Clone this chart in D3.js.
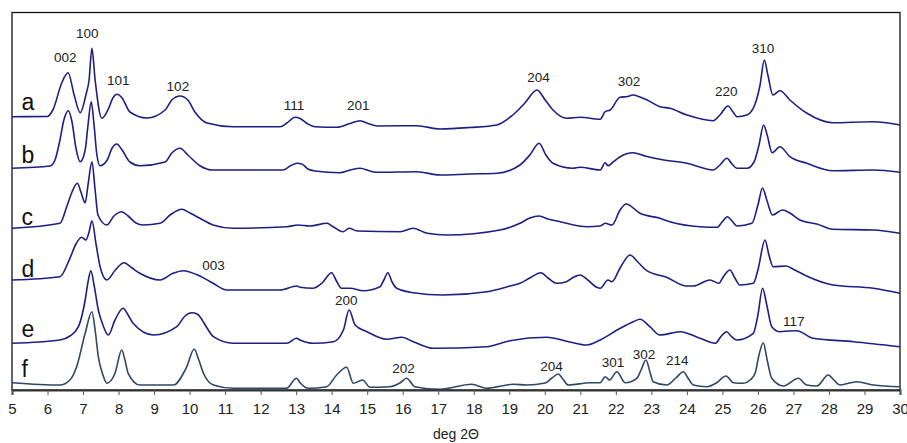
<!DOCTYPE html>
<html>
<head>
<meta charset="utf-8">
<script src="https://cdn.jsdelivr.net/npm/d3@7"></script>
<style>
html,body{margin:0;padding:0;background:#fff;}
svg{display:block;font-family:"Liberation Sans",Arial,sans-serif;}
</style>
</head>
<body>
<svg id="chart" width="907" height="443"></svg>
<script>
// ---- DATA ----
const sampleNames = ["a","b","c","d","e","f"];
const sampleOffsets = [250, 200, 150, 90, 40, 0];
const xTicks = [5,6,7,8,9,10,11,12,13,14,15,16,17,18,19,20,21,22,23,24,25,26,27,28,29,30];
const xTitle = "deg 2\u0398";

const traceA = [[5.00,23.3],[5.99,23.5],[6.15,30],[6.41,58],[6.58,67.3],[6.75,45],[6.92,27.3],[7.08,45],[7.17,60],[7.25,91.7],[7.34,60],[7.53,21.7],[7.70,30],[7.84,42],[7.96,45.7],[8.10,42],[8.32,28],[8.80,22],[9.31,30],[9.50,40],[9.73,44],[9.95,40],[10.15,28],[10.49,17],[11.22,13.3],[12.55,13.3],[12.74,17],[12.97,22.7],[13.11,21.5],[13.33,16],[13.53,13.3],[14.15,12.7],[14.52,16.5],[14.80,19.3],[15.02,16.5],[15.28,14],[16.40,14.3],[17.05,11],[17.89,12.5],[18.65,15],[19.10,25],[19.44,37],[19.78,50],[20.01,40],[20.23,30],[20.62,21.7],[20.99,22.7],[21.56,20.7],[21.70,28.3],[21.84,30],[22.12,42.7],[22.34,43.5],[22.48,45],[22.68,43],[22.88,40],[23.24,33.3],[23.52,31.7],[24.00,25],[24.74,19.3],[24.93,25],[25.16,34],[25.30,28],[25.41,23.3],[25.69,25],[25.92,36],[26.06,55],[26.18,80],[26.28,65],[26.42,45],[26.62,49.3],[26.90,40],[27.38,26.7],[28.11,17.3],[29.24,18.3],[30.00,15]];
const traceB = [[5.00,21.7],[6.07,24],[6.21,30],[6.35,50],[6.46,70],[6.59,79.3],[6.69,68],[6.80,42],[6.92,28.3],[7.06,40],[7.14,65],[7.23,88.3],[7.31,65],[7.39,35],[7.48,24.3],[7.68,30],[7.82,42],[7.95,46],[8.10,40],[8.32,28],[8.60,24.3],[9.31,28],[9.50,37],[9.73,41.7],[9.95,35],[10.29,24.3],[10.66,20],[12.63,20],[12.83,24],[13.02,26.7],[13.16,26],[13.33,21],[13.53,19],[14.23,17.3],[14.52,20],[14.80,21.7],[15.08,19],[15.28,17.7],[16.40,18.3],[17.05,15],[17.89,16],[18.65,16.7],[19.30,25],[19.58,35],[19.84,46.7],[20.03,35],[20.23,26.7],[20.79,21.7],[20.99,22.7],[21.56,20],[21.70,27.3],[21.78,24.3],[21.89,27],[22.12,33.3],[22.48,37.3],[22.82,34],[23.24,30.7],[24.00,26.7],[24.74,20],[24.93,25],[25.13,31.7],[25.27,26],[25.41,21.7],[25.69,21.7],[25.89,28],[26.03,45],[26.16,65],[26.26,55],[26.40,37.3],[26.62,43.3],[26.90,33.3],[27.38,26.7],[28.11,19.3],[29.24,20],[30.00,17.7]];
const traceC = [[5.00,11.7],[6.35,16.7],[6.54,33.3],[6.69,48],[6.84,56.7],[6.94,48],[7.06,37.3],[7.14,55],[7.25,78.3],[7.34,50],[7.42,25],[7.67,15],[7.87,24],[8.09,28.3],[8.27,24],[8.49,17],[8.69,15],[9.17,16.7],[9.45,25],[9.78,30.7],[10.01,27],[10.29,21.7],[10.66,15],[11.22,11.7],[12.74,13.3],[13.05,15],[13.39,14],[13.87,16.7],[14.04,13.3],[14.32,8.3],[14.49,11.7],[14.72,9],[15.93,8.3],[16.29,11.7],[16.69,6.7],[17.25,5],[18.74,10],[19.30,16.7],[19.58,22],[19.84,24],[20.09,21],[20.43,18.3],[21.19,13.3],[21.56,14],[21.70,16.7],[21.89,15],[22.12,30],[22.29,36],[22.68,26.7],[23.24,21.7],[23.52,18.3],[24.37,13.3],[24.85,12.7],[24.99,18],[25.14,23.3],[25.27,19],[25.41,14],[25.83,16.7],[26.00,35],[26.13,52],[26.25,40],[26.41,25],[26.69,30],[26.90,27],[27.18,20],[27.66,16],[28.11,10.7],[29.24,10],[30.00,6.7]];
const traceD = [[5.00,20],[6.35,23.3],[6.63,41.7],[6.80,56],[6.96,62.7],[7.08,60],[7.17,68],[7.25,79.3],[7.37,55],[7.48,33.3],[7.67,20],[7.91,30],[8.15,37.3],[8.38,32],[8.60,26.7],[9.17,20],[9.53,26.7],[9.82,29.3],[10.29,24],[10.66,16.7],[11.05,10],[12.55,10],[13.02,14],[13.11,12.7],[13.47,11.7],[13.73,17],[14.00,27.3],[14.12,20],[14.28,11.7],[14.52,11.7],[14.89,9.3],[15.36,13.3],[15.47,20],[15.58,27.3],[15.70,18],[15.83,11.7],[16.29,7.3],[17.14,5],[18.37,8.3],[19.02,14],[19.30,16.7],[19.58,22],[19.89,27.3],[20.09,22],[20.33,16.7],[20.61,18.3],[20.82,23],[20.99,25],[21.21,20],[21.46,12.7],[21.56,11.7],[21.78,20],[21.89,18.3],[22.12,32],[22.40,45],[22.62,38],[22.87,29.3],[23.43,22.7],[23.99,14],[24.18,14],[24.65,20],[24.90,16.7],[25.04,24],[25.21,30],[25.35,22],[25.49,15],[25.87,16.7],[26.00,30],[26.20,60],[26.31,45],[26.43,33.3],[26.79,34],[27.04,30],[27.37,24],[28.12,15],[29.25,11.7],[30.00,6.7]];
const traceE = [[5.00,6.7],[6.35,10],[6.63,14],[6.87,23.3],[7.06,50],[7.14,68],[7.22,79.3],[7.31,65],[7.43,40],[7.56,25],[7.71,15],[7.90,30],[8.13,41.7],[8.27,35],[8.41,26.7],[8.98,15],[9.64,23.3],[9.87,34],[10.06,37.3],[10.21,36],[10.29,33.3],[10.49,22],[10.67,13.3],[11.23,6.7],[12.73,6.7],[13.01,11.7],[13.11,10],[13.48,6.7],[14.05,8.3],[14.33,20],[14.49,40],[14.66,25],[14.99,18.3],[15.55,10.7],[15.97,12.7],[16.30,8.3],[16.86,1.7],[18.36,3.3],[19.02,9.3],[20.05,12.7],[20.71,8],[21.18,5],[21.56,10],[22.12,21.7],[22.49,28.3],[22.68,30.7],[22.96,23.3],[23.24,15],[23.81,18.3],[24.37,11.7],[24.80,6.7],[24.97,14],[25.12,18.3],[25.24,14],[25.40,10],[25.87,16.7],[26.00,35],[26.13,61.7],[26.25,45],[26.39,23.3],[26.62,18.3],[26.87,19],[27.09,19.3],[27.56,11.7],[28.69,8.3],[30.00,3.3]];
const traceF = [[5.00,7.3],[6.35,5],[6.63,10],[6.82,23.3],[7.06,56.7],[7.25,78.3],[7.34,60],[7.43,33.3],[7.56,15],[7.67,6.7],[7.90,16.7],[8.09,40],[8.18,30],[8.27,16.7],[8.60,5],[9.54,5],[9.92,23.3],[10.13,41],[10.24,32],[10.39,16.7],[10.67,5],[11.23,1.7],[12.73,1.7],[13.01,11.7],[13.11,7.3],[13.34,1.7],[13.86,3.3],[14.14,15],[14.42,22.7],[14.61,6.7],[14.87,10],[15.08,2.7],[15.64,3.3],[15.92,7],[16.11,11.7],[16.34,3.3],[17.05,0.7],[17.94,5.7],[18.36,1.7],[19.11,5.7],[19.49,5],[20.01,7],[20.20,12],[20.38,16],[20.51,11],[20.66,5],[21.27,7.3],[21.56,7.3],[21.70,13.3],[21.82,10],[22.03,18.3],[22.26,7.3],[22.59,11.7],[22.71,20],[22.85,30],[22.96,18],[23.05,8.3],[23.43,5],[23.69,12],[23.90,18.3],[24.03,12],[24.18,5],[24.56,3.3],[24.84,7.3],[25.10,14],[25.31,7.3],[25.59,6.7],[25.78,10],[25.92,16.7],[26.03,35],[26.15,47.3],[26.26,30],[26.39,11.7],[26.72,4],[27.14,11.7],[27.37,5],[27.66,4],[27.98,15],[28.14,10],[28.31,5],[28.78,8.3],[29.25,5],[30.00,3.3]];
const traces = [traceA, traceB, traceC, traceD, traceE, traceF];

// peak labels: text, 2theta, stacked height (label centre)
const peakText = ["002","100","101","102","111","201","204","302","220","310","003","200","117","202","204","301","302","214"];
const peakX    = [6.50,7.12,7.99,9.67,12.94,14.75,19.82,22.37,25.11,26.14,10.67,14.41,27.01,16.02,20.19,21.92,22.79,23.73];
const peakY    = [333.3,356.7,310,304.3,285,285,313.3,309,298.7,342,124.7,90,68.7,21.7,24.3,28.3,36.2,29.5];
// sample letter baselines (stacked units)
const letterY = [280, 226.7, 165, 113, 53, 13];

// ---- CHART ----
const svg = d3.select("#chart");
const x = d3.scaleLinear().domain([5, 30]).range([12, 900]);
const y = d3.scaleLinear().domain([0, 377.5]).range([390, 12.5]);
const colors = ["#1e1e84","#1e1e84","#1e1e84","#1e1e84","#1e1e84","#2f4666"];

// frame
svg.append("rect").attr("x", 12).attr("y", 12.5).attr("width", 888).attr("height", 377.5)
  .attr("fill", "none").attr("stroke", "#111").attr("stroke-width", 1.3);

// traces
const line = d3.line().curve(d3.curveMonotoneX);
traces.forEach((t, i) => {
  svg.append("path")
    .attr("d", line.x(d => x(d[0])).y(d => y(d[1] + sampleOffsets[i]))(t))
    .attr("fill", "none").attr("stroke", colors[i]).attr("stroke-width", 1.6)
    .attr("stroke-linejoin", "round");
});

// x axis
const ax = svg.append("g").attr("transform", "translate(0,390)")
  .call(d3.axisBottom(x).tickValues(xTicks).tickFormat(d3.format("d")).tickSize(5).tickPadding(8));
ax.select(".domain").attr("stroke", "#333").attr("stroke-width", 2);
ax.selectAll(".tick line").attr("stroke", "#555").attr("stroke-width", 1);
ax.selectAll(".tick text").attr("font-size", 15).attr("fill", "#222")
  .attr("font-family", "'Liberation Sans', Arial, sans-serif");

svg.append("text").attr("x", x(17.5)).attr("y", 439).attr("text-anchor", "middle")
  .attr("font-size", 14).attr("fill", "#222").text(xTitle);

// peak labels
peakText.forEach((t, i) => {
  svg.append("text").attr("x", x(peakX[i])).attr("y", y(peakY[i])).attr("dy", "0.36em")
    .attr("text-anchor", "middle").attr("font-size", 13.5).attr("fill", "#222").text(t);
});

// sample letters
sampleNames.forEach((n, i) => {
  svg.append("text").attr("x", x(5.27)).attr("y", y(letterY[i]))
    .attr("font-size", 23).attr("fill", "#111").text(n);
});
</script>
</body>
</html>
